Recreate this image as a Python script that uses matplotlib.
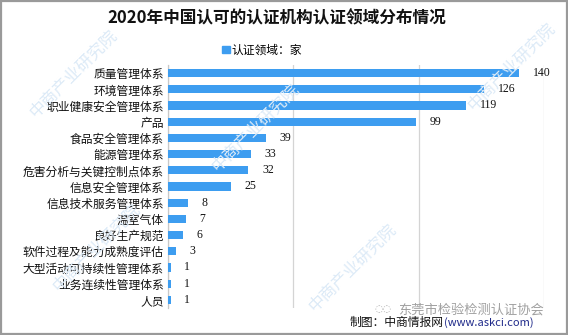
import matplotlib
matplotlib.use("Agg")
import matplotlib.pyplot as plt
from matplotlib.patches import Patch, Rectangle

plt.rcParams['font.family'] = ['Noto Sans CJK SC', 'DejaVu Sans']

# 认证领域及机构数量（家）
categories = [
    "质量管理体系", "环境管理体系", "职业健康安全管理体系", "产品",
    "食品安全管理体系", "能源管理体系", "危害分析与关键控制点体系",
    "信息安全管理体系", "信息技术服务管理体系", "温室气体", "良好生产规范",
    "软件过程及能力成熟度评估", "大型活动可持续性管理体系",
    "业务连续性管理体系", "人员",
]
values = [140, 126, 119, 99, 39, 33, 32, 25, 8, 7, 6, 3, 1, 1, 1]

TITLE = "2020年中国认可的认证机构认证领域分布情况"
LEGEND_LABEL = "认证领域：家"
BAR_COLOR = "#3d9df0"

fig = plt.figure(figsize=(5.68, 3.35), dpi=100)
fig.patch.set_facecolor("white")

# faint diagonal watermark
for cx, cy in [(0.13, 0.78), (0.45, 0.62), (0.90, 0.80),
               (0.17, 0.26), (0.62, 0.20)]:
    fig.text(cx, cy, "中商产业研究院", rotation=45, fontsize=12,
             color="#dceaf7", ha="center", va="center", zorder=0)

ax = fig.add_axes([168 / 568, 27 / 335, 376 / 568, 243 / 335])
ax.set_facecolor("none")

y = list(range(len(categories)))
ax.barh(y, values, height=0.5, color=BAR_COLOR, zorder=3)
ax.set_ylim(len(categories) - 0.5, -0.5)
ax.set_xlim(0, 150)

ax.set_yticks(y)
ax.set_yticklabels(categories, fontsize=8.5, color="#111111")
ax.tick_params(axis="y", length=0, pad=3)
ax.set_xticks([0, 50, 100, 150])
ax.tick_params(axis="x", length=0, labelbottom=False)
ax.grid(axis="x", color="#d4d4d4", linewidth=0.9, zorder=0)

for s in ["top", "right", "bottom"]:
    ax.spines[s].set_visible(False)
ax.spines["left"].set_color("#c8c8c8")
ax.spines["left"].set_linewidth(0.9)

for yi, v in zip(y, values):
    ax.annotate(str(v), xy=(v, yi), xytext=(10, 0), textcoords="offset points",
                ha="left", va="center", fontsize=8.5,
                family="Liberation Serif", color="#111111")

fig.text(0.487, 0.945, TITLE, ha="center", va="center", fontsize=12,
         fontweight="bold", color="#111111")

fig.legend(handles=[Patch(color=BAR_COLOR, label=LEGEND_LABEL)],
           loc="center", bbox_to_anchor=(0.462, 0.851), frameon=False,
           fontsize=8.5, handlelength=0.6, handleheight=0.6,
           handletextpad=0.2, borderpad=0)

fig.text(0.69, 0.078, "\u25cc\u25cc", ha="right", va="center", fontsize=7,
         color="#b0b0b0", family="DejaVu Sans")
fig.text(0.70, 0.075, "东莞市检验检测认证协会", ha="left", va="center",
         fontsize=9.5, color="#a0a0a0")

t1 = fig.text(0.616, 0.036, "制图：中商情报网", ha="left", va="center",
              fontsize=8.5, color="#111111")
fig.canvas.draw()
bb = t1.get_window_extent().transformed(fig.transFigure.inverted())
fig.text(bb.x1, 0.036, "(www.askci.com)", ha="left", va="center",
         fontsize=8, color="#1f2a8a")

fig.patches.append(Rectangle((0.001, 0.002), 0.997, 0.995, fill=False,
                             edgecolor="#9a9a9a", linewidth=1.6,
                             transform=fig.transFigure, figure=fig))

fig.savefig("out.png", dpi=100, facecolor="white")
